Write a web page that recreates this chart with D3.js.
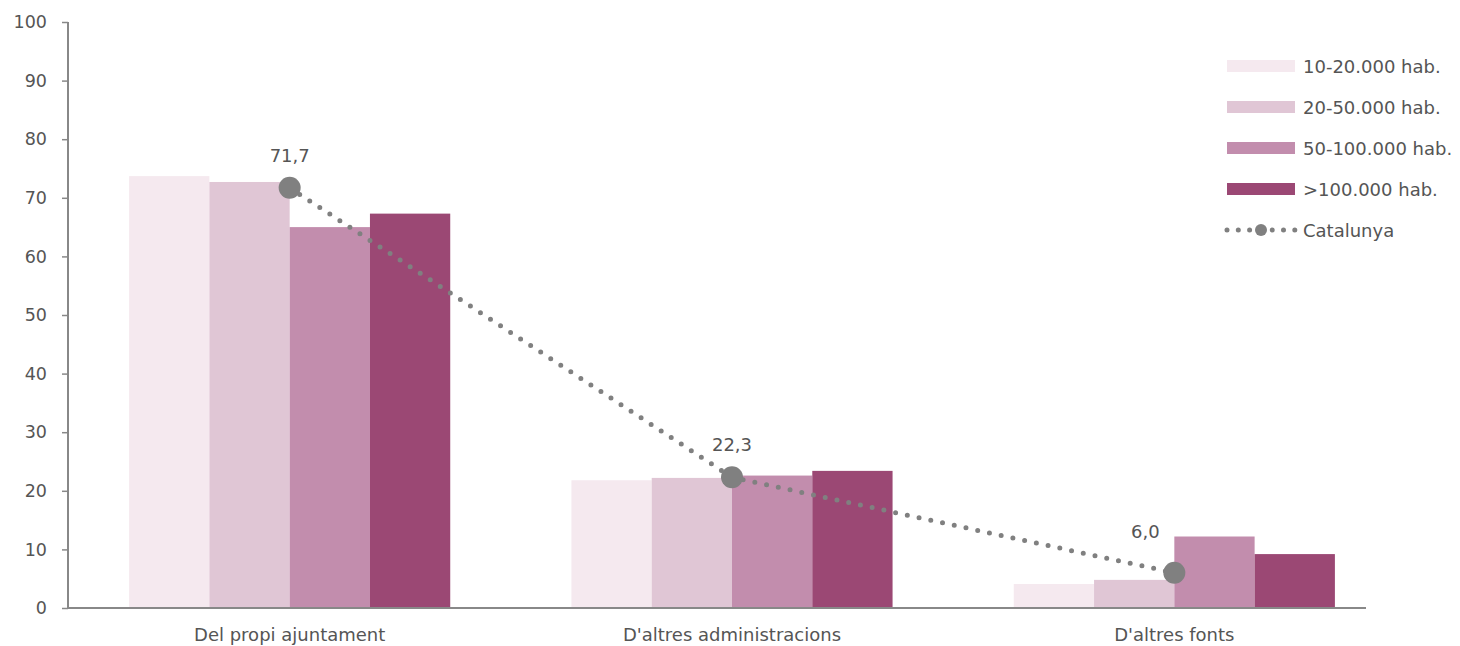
<!DOCTYPE html>
<html><head><meta charset="utf-8">
<script src="https://cdn.jsdelivr.net/npm/d3@7"></script>
<style>
html,body{margin:0;padding:0;background:#fff;}
text{font-family:"DejaVu Sans",Arial,sans-serif;}
</style></head>
<body><svg id="c" width="1460" height="646"></svg>
<script>
const categories = ["Del propi ajuntament", "D'altres administracions", "D'altres fonts"];
const seriesNames = ["10-20.000 hab.", "20-50.000 hab.", "50-100.000 hab.", ">100.000 hab."];
const s1 = [73.7, 21.8, 4.1];
const s2 = [72.7, 22.2, 4.8];
const s3 = [65.0, 22.6, 12.2];
const s4 = [67.3, 23.4, 9.2];
const catalunya = [71.7, 22.3, 6.0];
const catalunyaLabels = ["71,7", "22,3", "6,0"];
const yTicks = [0,10,20,30,40,50,60,70,80,90,100];
const colors = ["#f5e9ef", "#e0c6d5", "#c28dad", "#9b4874"];
const series = [s1, s2, s3, s4];

const FS = 18, TXT = "#555";
const svg = d3.select("#c");
const y = d3.scaleLinear().domain([0,100]).range([608, 22]);
const x0 = d3.scaleBand().domain(categories).range([68.5, 1395.5]).paddingInner(0.274).paddingOuter(0.137);
const x1 = d3.scaleBand().domain(d3.range(4)).range([0, x0.bandwidth()]);

categories.forEach((c, ci) => {
  series.forEach((s, si) => {
    svg.append("rect")
      .attr("x", x0(c) + x1(si))
      .attr("y", y(s[ci]))
      .attr("width", x1.bandwidth())
      .attr("height", y(0) - y(s[ci]))
      .attr("fill", colors[si]);
  });
});

const yAxis = svg.append("g").attr("transform", "translate(68,0)")
  .call(d3.axisLeft(y).tickValues(yTicks).tickSize(6).tickPadding(15).tickFormat(d3.format("d")));
yAxis.select(".domain").attr("stroke", "#888").attr("stroke-width", 2).attr("d", "M0,22V608");
yAxis.selectAll(".tick line").attr("stroke", "#888").attr("stroke-width", 1.5);
yAxis.selectAll(".tick text").attr("fill", TXT).attr("font-size", 17.5)
  .attr("font-family", "DejaVu Sans, Arial, sans-serif");

svg.append("line").attr("x1", 67).attr("x2", 1366).attr("y1", y(0)).attr("y2", y(0))
  .attr("stroke", "#888").attr("stroke-width", 2);

categories.forEach(c => {
  svg.append("text").attr("x", x0(c) + x0.bandwidth()/2).attr("y", 641)
    .attr("text-anchor", "middle").attr("font-size", FS).attr("fill", TXT).text(c);
});

const cx = c => x0(c) + x0.bandwidth()/2;
const line = d3.line().x((d,i) => cx(categories[i])).y(d => y(d));
svg.append("path").datum(catalunya).attr("d", line)
  .attr("fill", "none").attr("stroke", "#808080").attr("stroke-width", 5)
  .attr("stroke-linecap", "round").attr("stroke-dasharray", "0,12");
catalunya.forEach((v, i) => {
  const last = i === catalunya.length - 1;
  svg.append("circle").attr("cx", cx(categories[i])).attr("cy", y(v)).attr("r", 11).attr("fill", "#808080");
  svg.append("text").attr("x", cx(categories[i]) + (last ? -29 : 0)).attr("y", y(v) - (last ? 35 : 26))
    .attr("text-anchor", "middle").attr("font-size", FS).attr("fill", TXT).text(catalunyaLabels[i]);
});

const lg = svg.append("g");
seriesNames.forEach((n, i) => {
  const yy = 66 + i*41;
  lg.append("rect").attr("x", 1227).attr("y", yy - 6).attr("width", 68).attr("height", 12).attr("fill", colors[i]);
  lg.append("text").attr("x", 1303).attr("y", yy + 6.5).attr("font-size", FS).attr("fill", TXT).text(n);
});
const ly = 66 + 4*41;
lg.append("line").attr("x1", 1227).attr("x2", 1295).attr("y1", ly).attr("y2", ly)
  .attr("stroke", "#808080").attr("stroke-width", 5).attr("stroke-linecap", "round").attr("stroke-dasharray", "0,11.3");
lg.append("circle").attr("cx", 1261).attr("cy", ly).attr("r", 6).attr("fill", "#808080");
lg.append("text").attr("x", 1303).attr("y", ly + 6.5).attr("font-size", FS).attr("fill", TXT).text("Catalunya");
</script></body></html>
